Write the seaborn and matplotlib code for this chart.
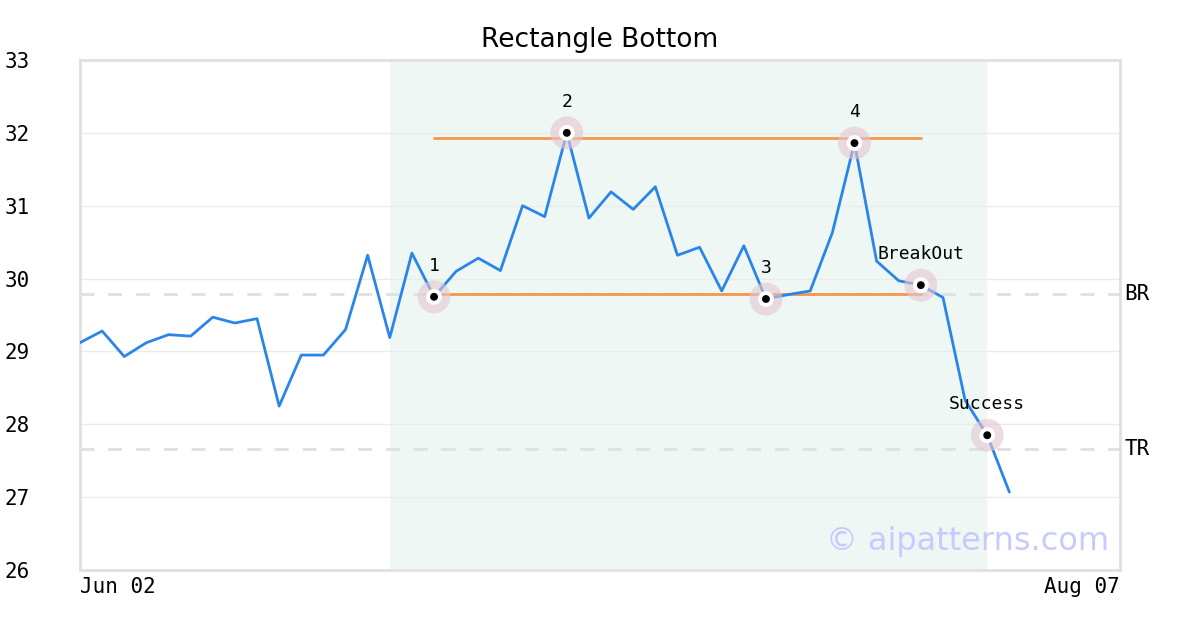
import pandas as pd
import matplotlib
import matplotlib.pyplot as plt
import seaborn as sns

matplotlib.use('Agg')

# price series, one value per trading day starting Jun 02
close = [29.12, 29.28, 28.93, 29.12, 29.23, 29.21, 29.47, 29.39, 29.45, 28.25,
         28.95, 28.95, 29.30, 30.32, 29.19, 30.35, 29.75, 30.10, 30.28, 30.11,
         31.00, 30.85, 32.00, 30.83, 31.19, 30.95, 31.26, 30.32, 30.43, 29.83,
         30.45, 29.72, 29.78, 29.83, 30.63, 31.86, 30.24, 29.97, 29.91, 29.74,
         28.33, 27.85, 27.07]
x_last = 47
x_tick_pos = [0, 47]
x_tick_labels = ["Jun 02", "Aug 07"]

# pattern points
point_idx = [16, 22, 31, 35, 38, 41]
point_labels = ["1", "2", "3", "4", "BreakOut", "Success"]

# rectangle bounds and pattern window
rect_top = 31.93
rect_bottom = 29.79
rect_start, rect_end = 16, 38
shade_start, shade_end = 14, 41

# reference levels
level_names = ["BR", "TR"]
level_values = [29.79, 27.66]

df = pd.DataFrame({"day": range(len(close)), "close": close})
pts = df.iloc[point_idx].copy()
pts["label"] = point_labels

sns.set_style("white")
plt.rcParams['font.family'] = ['DejaVu Sans Mono', 'DejaVu Sans']
plt.rcParams['text.color'] = 'black'
plt.rcParams['xtick.color'] = 'black'
plt.rcParams['ytick.color'] = 'black'

fig = plt.figure(figsize=(12, 6.3), dpi=100)
ax = fig.add_axes([80 / 1200, 60 / 630, 1040 / 1200, 510 / 630])

ax.axvspan(shade_start, shade_end, color='#eef7f3', zorder=0, lw=0)
for v in range(27, 33):
    ax.axhline(v, color='#ebebeb', lw=1, zorder=0.5)
for name, v in zip(level_names, level_values):
    ax.axhline(v, color='#e0e0e0', lw=2, ls=(0, (5, 5)), zorder=1)
    ax.text(1.004, v, name, transform=ax.get_yaxis_transform(), fontsize=15,
            va='center', ha='left')

ax.plot([rect_start, rect_end], [rect_top, rect_top], color='#f5974a', lw=2, zorder=2)
ax.plot([rect_start, rect_end], [rect_bottom, rect_bottom], color='#f5974a', lw=2, zorder=2)

sns.lineplot(data=df, x="day", y="close", ax=ax, color='#2a85e8', lw=2, zorder=3)

sns.scatterplot(data=pts, x="day", y="close", ax=ax, s=560, color='#e3c6cf',
                alpha=0.6, edgecolor='none', zorder=4)
sns.scatterplot(data=pts, x="day", y="close", ax=ax, s=130, color='white',
                edgecolor='none', zorder=5)
sns.scatterplot(data=pts, x="day", y="close", ax=ax, s=32, color='black',
                edgecolor='none', zorder=6)
for _, r in pts.iterrows():
    ax.annotate(r["label"], (r["day"], r["close"]), xytext=(0, 16),
                textcoords='offset points', ha='center', va='bottom', fontsize=13)

ax.text(0.99, 0.055, "© aipatterns.com", transform=ax.transAxes, ha='right',
        va='center', fontsize=23, color='#c8caff', family='DejaVu Sans', zorder=7)

ax.set_xlim(0, x_last)
ax.set_ylim(26, 33)
ax.set_xticks(x_tick_pos)
ax.set_xticklabels(x_tick_labels, fontsize=15)
ax.get_xticklabels()[0].set_ha('left')
ax.get_xticklabels()[1].set_ha('right')
ax.set_yticks(range(26, 34))
ax.set_yticklabels([str(v) for v in range(26, 34)], fontsize=15)
ax.tick_params(axis='y', length=0, pad=36)
ax.tick_params(axis='x', length=0, pad=5)
ax.set_xlabel("")
ax.set_ylabel("")
for s in ax.spines.values():
    s.set_color('#e0e0e0')
    s.set_linewidth(2)

fig.text(0.5, 1 - 40 / 630, "Rectangle Bottom", ha='center', va='center',
         fontsize=19, family='DejaVu Sans')

fig.savefig("out.png", dpi=100)
